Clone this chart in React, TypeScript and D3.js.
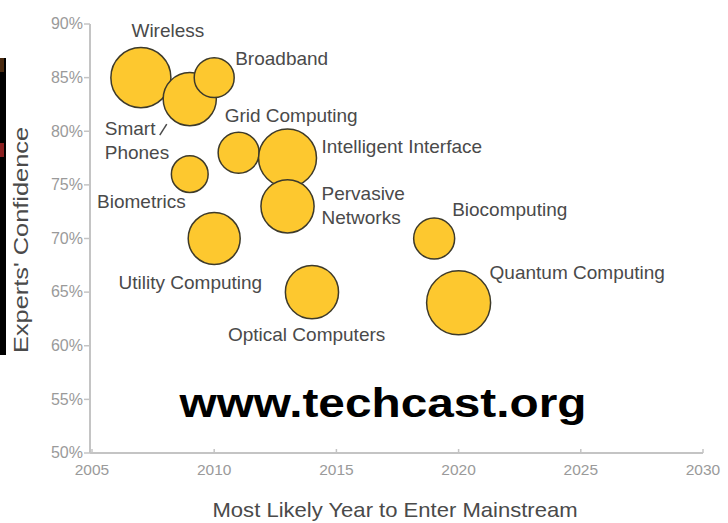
import React from "react";
import { scaleLinear, scaleSqrt, range } from "d3";

// technologies, in drawing order
const techNames = [
  "Wireless",
  "Smart Phones",
  "Broadband",
  "Grid Computing",
  "Intelligent Interface",
  "Pervasive Networks",
  "Biometrics",
  "Utility Computing",
  "Optical Computers",
  "Biocomputing",
  "Quantum Computing",
];
const mainstreamYear = [2007, 2009, 2010, 2011, 2013, 2013, 2009, 2010, 2014, 2019, 2020];
const confidence = [85, 83, 85, 78, 77.5, 73, 76, 70, 65, 70, 64];
const bubbleSize = [88, 69, 39, 41, 82, 69, 33, 66, 69, 41, 100];

const yearTicks = [2005, 2010, 2015, 2020, 2025, 2030];
const pctTicks = [50, 55, 60, 65, 70, 75, 80, 85, 90];

// label layout: lines of text, offset from bubble centre (px), anchor
const labelLayout = [
  { lines: ["Wireless"], dx: 27, dy: -41, anchor: "middle" },
  { lines: ["Smart", "Phones"], dx: -85, dy: 36, anchor: "start" },
  { lines: ["Broadband"], dx: 21, dy: -13, anchor: "start" },
  { lines: ["Grid Computing"], dx: -14, dy: -31, anchor: "start" },
  { lines: ["Intelligent Interface"], dx: 34, dy: -5, anchor: "start" },
  { lines: ["Pervasive", "Networks"], dx: 34, dy: -6, anchor: "start" },
  { lines: ["Biometrics"], dx: -4, dy: 34, anchor: "end" },
  { lines: ["Utility Computing"], dx: 48, dy: 50, anchor: "end" },
  { lines: ["Optical Computers"], dx: -84, dy: 49, anchor: "start" },
  { lines: ["Biocomputing"], dx: 18, dy: -23, anchor: "start" },
  { lines: ["Quantum Computing"], dx: 31, dy: -24, anchor: "start" },
];

const W = 728;
const H = 523;
const font = "'Liberation Sans', Arial, Helvetica, sans-serif";

export default function App() {
  const x = scaleLinear().domain([2005, 2030]).range([92, 703]);
  const y = scaleLinear().domain([50, 90]).range([453, 24]);
  const r = scaleSqrt().domain([0, 100]).range([0, 32]);

  const bubbles = range(techNames.length).map((i) => ({
    name: techNames[i],
    cx: x(mainstreamYear[i]),
    cy: y(confidence[i]),
    r: r(bubbleSize[i]),
    label: labelLayout[i],
  }));

  const phones = bubbles[1];

  return (
    <svg
      width={W}
      height={H}
      style={{ position: "absolute", left: 0, top: 0, background: "#fff" }}
      fontFamily={font}
    >
      {/* cropped slide edge on the left */}
      <rect x={0} y={58} width={6} height={297} fill="#000" />
      <rect x={0} y={58} width={4} height={14} fill="#4a2a10" />
      <rect x={0} y={143} width={4} height={14} fill="#8a2020" />

      {/* axes */}
      <line x1={90} x2={90} y1={y(90)} y2={y(50)} stroke="#c4c4c4" strokeWidth={2} />
      <line x1={90} x2={x(2030)} y1={y(50)} y2={y(50)} stroke="#c4c4c4" strokeWidth={2} />
      {pctTicks.map((p) => (
        <g key={p}>
          <line x1={84} x2={90} y1={y(p)} y2={y(p)} stroke="#c4c4c4" strokeWidth={1.5} />
          <text
            x={83}
            y={y(p)}
            dy="0.33em"
            textAnchor="end"
            fontSize={16}
            fill="#9a9a9a"
          >
            {p}%
          </text>
        </g>
      ))}
      {yearTicks.map((t) => (
        <g key={t}>
          <line x1={x(t)} x2={x(t)} y1={y(50) - 4} y2={y(50)} stroke="#c4c4c4" strokeWidth={1.5} />
          <text x={x(t)} y={475} textAnchor="middle" fontSize={15.5} fill="#9a9a9a">
            {t}
          </text>
        </g>
      ))}

      {/* axis titles */}
      <text
        x={395}
        y={517}
        textAnchor="middle"
        fontSize={21}
        fill="#4a4a4a"
        textLength={365}
        lengthAdjust="spacingAndGlyphs"
      >
        Most Likely Year to Enter Mainstream
      </text>
      <text
        transform="translate(28,240) rotate(-90)"
        textAnchor="middle"
        fontSize={21}
        fill="#4a4a4a"
        textLength={226}
        lengthAdjust="spacingAndGlyphs"
      >
        Experts' Confidence
      </text>

      {/* bubbles */}
      {bubbles.map((b) => (
        <circle
          key={b.name}
          cx={b.cx}
          cy={b.cy}
          r={b.r}
          fill="#FDC82F"
          stroke="#3d3a2a"
          strokeWidth={1.5}
        />
      ))}

      {/* pointer from "Smart" to its bubble */}
      <line
        x1={phones.cx - 30}
        y1={phones.cy + 36}
        x2={phones.cx - 23}
        y2={phones.cy + 25}
        stroke="#4a4a4a"
        strokeWidth={1.5}
      />

      {/* labels */}
      {bubbles.map((b) => (
        <text
          key={b.name + "-label"}
          x={b.cx + b.label.dx}
          y={b.cy + b.label.dy}
          textAnchor={b.label.anchor}
          fontSize={19}
          fill="#4a4a4a"
        >
          {b.label.lines.map((ln, j) => (
            <tspan key={ln} x={b.cx + b.label.dx} dy={j === 0 ? 0 : 24}>
              {ln}
            </tspan>
          ))}
        </text>
      ))}

      {/* watermark */}
      <text
        x={383}
        y={417}
        textAnchor="middle"
        fontSize={40}
        fontWeight="bold"
        fill="#000"
        textLength={407}
        lengthAdjust="spacingAndGlyphs"
      >
        www.techcast.org
      </text>
    </svg>
  );
}
